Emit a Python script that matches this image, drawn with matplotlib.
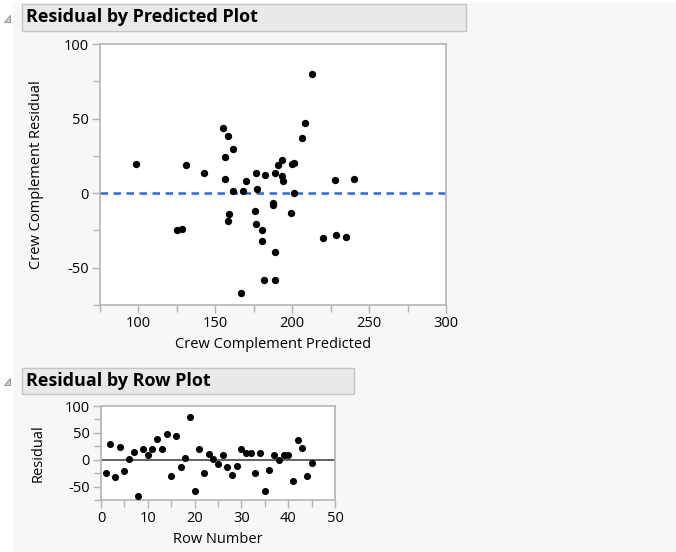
import numpy as np
import matplotlib.pyplot as plt
from matplotlib.patches import Rectangle, Polygon

# values (row order)
predicted = [125.3, 161.7, 180.5, 156.1, 176.2, 161.3, 176.6, 166.7, 98.5, 169.7,
             131.0, 158.2, 190.9, 208.2, 219.7, 155.2, 198.9, 177.3, 212.8, 181.4,
             200.9, 128.1, 193.3, 168.2, 187.7, 240.3, 159.1, 228.4, 175.8, 199.6,
             142.9, 182.3, 180.3, 188.7, 188.7, 158.4, 156.3, 200.9, 227.7, 193.7,
             189.0, 206.1, 193.1, 235.1, 187.4]
residual = [-24.8, 29.5, -32.0, 23.9, -20.5, 1.6, 13.5, -67.1, 19.4, 8.3,
            19.1, 38.3, 19.1, 47.3, -30.0, 43.5, -13.1, 2.9, 79.9, -58.1,
            20.5, -24.3, 11.3, 1.6, -7.7, 9.2, -14.2, -28.4, -12.2, 19.8,
            13.3, 11.9, -24.5, 13.3, -58.1, -18.7, 9.7, 0.0, 8.6, 8.3,
            -39.2, 37.2, 22.3, -29.5, -6.3]
rows = np.arange(1, len(residual) + 1)

pred_ticks = [100, 150, 200, 250, 300]
res_ticks = [-50, 0, 50, 100]
row_ticks = [0, 10, 20, 30, 40, 50]

W, H = 676, 552
BG = '#f7f7f7'
SPINE = '#b4b4b4'
FONT = 'Open Sans'

plt.rcParams['font.family'] = [FONT, 'DejaVu Sans']
plt.rcParams['axes.unicode_minus'] = False

fig = plt.figure(figsize=(W / 100, H / 100), dpi=100, facecolor=BG)


def px_axes(left, top, right, bottom):
    return fig.add_axes([left / W, 1 - bottom / H, (right - left) / W, (bottom - top) / H])


def title_bar(left, top, right, bottom, text):
    fig.patches.append(Rectangle((left / W, 1 - bottom / H), (right - left) / W, (bottom - top) / H,
                                 transform=fig.transFigure, facecolor='#e9e9e9',
                                 edgecolor='#c6c6c6', linewidth=1))
    cy = 1 - (top + bottom) / 2 / H
    fig.patches.append(Polygon([(4 / W, cy - 4 / H), (10 / W, cy - 4 / H), (10 / W, cy + 3 / H)],
                               closed=True, transform=fig.transFigure,
                               facecolor='#d0d0d0', edgecolor='#9a9a9a', linewidth=0.8))
    fig.text((left + 4) / W, cy, text, fontsize=13, fontweight='bold',
             va='center', ha='left', color='black')


def style(ax, xlim, ylim, xmaj, ymaj, xmin, ymin):
    ax.set_facecolor('white')
    ax.set_xlim(*xlim)
    ax.set_ylim(*ylim)
    for s in ax.spines.values():
        s.set_color(SPINE)
        s.set_linewidth(1.2)
    ax.set_xticks(xmaj)
    ax.set_yticks(ymaj)
    ax.set_xticks(xmin, minor=True)
    ax.set_yticks(ymin, minor=True)
    ax.tick_params(which='both', color=SPINE, width=1.0, direction='out', labelsize=10.5,
                   labelcolor='black', pad=2)
    ax.tick_params(which='major', length=6)
    ax.tick_params(which='minor', length=5)


# white margin strips
fig.patches.append(Rectangle((0, 0), 13 / W, 1, transform=fig.transFigure,
                             facecolor='white', edgecolor='none'))
fig.patches.append(Rectangle((0, 1 - 3 / H), 1, 3 / H, transform=fig.transFigure,
                             facecolor='white', edgecolor='none'))

title_bar(22, 4, 466, 31, 'Residual by Predicted Plot')
title_bar(22, 368, 354, 394, 'Residual by Row Plot')

# residual by predicted
ax1 = px_axes(100, 44, 446, 305)
style(ax1, (75, 300), (-75, 100), pred_ticks, res_ticks,
      [75, 125, 175, 225, 275], [-75, -25, 25, 75])
ax1.axhline(0, color='#2f66f0', linewidth=1.8, linestyle=(0, (3, 2.2)), zorder=1)
ax1.scatter(predicted, residual, s=28, color='black', zorder=3, linewidths=0)
ax1.set_xlabel('Crew Complement Predicted', fontsize=10.5, labelpad=4)
ax1.set_ylabel('Crew Complement Residual', fontsize=10.5, labelpad=14)

# residual by row
ax2 = px_axes(101, 406, 335, 500)
style(ax2, (0, 50), (-75, 100), row_ticks, res_ticks,
      [5, 15, 25, 35, 45], [-75, -25, 25, 75])
ax2.axhline(0, color='#555555', linewidth=1.3, zorder=1)
ax2.scatter(rows, residual, s=26, color='black', zorder=3, linewidths=0)
ax2.set_xlabel('Row Number', fontsize=10.5, labelpad=4)
ax2.set_ylabel('Residual', fontsize=10.5, labelpad=14)

fig.savefig('out.png', dpi=100, facecolor=BG)
